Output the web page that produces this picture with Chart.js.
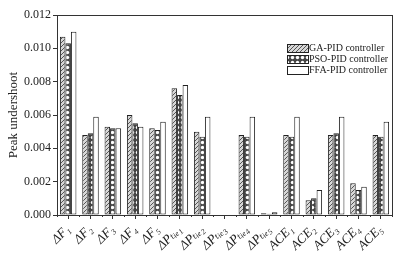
<!DOCTYPE html>
<html>
<head>
<meta charset="utf-8">
<script src="https://cdn.jsdelivr.net/npm/chart.js@4/dist/chart.umd.min.js"></script>
<style>
  html, body { margin: 0; padding: 0; background: #fff; }
  #wrap { width: 406px; height: 258px; }
</style>
</head>
<body>
<div id="wrap"><canvas id="chart" width="406" height="258"></canvas></div>
<script>
var categories = ['ΔF₁', 'ΔF₂', 'ΔF₃', 'ΔF₄', 'ΔF₅',
  'ΔPₜᵢₑ₁', 'ΔPₜᵢₑ₂', 'ΔPₜᵢₑ₃', 'ΔPₜᵢₑ₄', 'ΔPₜᵢₑ₅',
  'ACE₁', 'ACE₂', 'ACE₃', 'ACE₄', 'ACE₅'];
var gaValues  = [0.0107, 0.0048, 0.0053, 0.0060, 0.0052, 0.0076, 0.0050, 0.00003, 0.0048, 0.00010, 0.0048, 0.00088, 0.0048, 0.0019, 0.0048];
var psoValues = [0.0103, 0.0049, 0.0052, 0.0055, 0.0051, 0.0072, 0.0047, 0.00003, 0.0047, 0.00008, 0.0047, 0.0010, 0.0049, 0.0015, 0.0047];
var ffaValues = [0.0110, 0.0059, 0.0052, 0.0053, 0.0056, 0.0078, 0.0059, 0.00003, 0.0059, 0.00016, 0.0059, 0.0015, 0.0059, 0.0017, 0.0056];
var seriesNames = ['GA-PID controller', 'PSO-PID controller', 'FFA-PID controller'];
var yTicks = [0, 0.002, 0.004, 0.006, 0.008, 0.010, 0.012];

var serif = '"Liberation Serif", "Times New Roman", "DejaVu Serif", serif';

// diagonal hatch for GA
function hatchPattern() {
  var c = document.createElement('canvas');
  c.width = 4; c.height = 4;
  var g = c.getContext('2d');
  g.fillStyle = '#d8d8d8';
  g.fillRect(0, 0, 4, 4);
  g.strokeStyle = '#555';
  g.lineWidth = 1;
  g.beginPath();
  g.moveTo(0, 4); g.lineTo(4, 0);
  g.moveTo(-1, 1); g.lineTo(1, -1);
  g.moveTo(3, 5); g.lineTo(5, 3);
  g.stroke();
  return g.createPattern(c, 'repeat');
}

// crosshatch with white holes for PSO
function crossPattern() {
  var c = document.createElement('canvas');
  c.width = 5; c.height = 5;
  var g = c.getContext('2d');
  g.fillStyle = '#444';
  g.fillRect(0, 0, 5, 5);
  g.fillStyle = '#fff';
  g.beginPath();
  g.arc(2.5, 2.5, 1.7, 0, Math.PI * 2);
  g.fill();
  return g.createPattern(c, 'repeat');
}

var fills = [hatchPattern(), crossPattern(), '#ffffff'];

var framePlugin = {
  id: 'frame',
  afterDraw: function(chart) {
    var ctx = chart.ctx, a = chart.chartArea;
    ctx.save();
    ctx.strokeStyle = '#333';
    ctx.lineWidth = 1;
    ctx.strokeRect(Math.round(a.left) + 0.5, Math.round(a.top) + 0.5,
      Math.round(a.right - a.left), Math.round(a.bottom - a.top));

    // minor ticks between categories
    var xs = chart.scales.x;
    var step = xs.width / categories.length;
    ctx.beginPath();
    for (var i = 0; i <= categories.length; i++) {
      var px = Math.round(xs.left + i * step) + 0.5;
      ctx.moveTo(px, a.bottom);
      ctx.lineTo(px, a.bottom + 2);
    }
    ctx.stroke();

    // legend inside plot, top right
    var lx = a.right - 105, ly = a.top + 33;
    ctx.font = '10px ' + serif;
    ctx.textBaseline = 'middle';
    for (var k = 0; k < seriesNames.length; k++) {
      var yy = ly + k * 11;
      ctx.fillStyle = fills[k];
      ctx.fillRect(lx, yy - 4, 21, 8);
      ctx.strokeStyle = '#222';
      ctx.strokeRect(lx + 0.5, yy - 3.5, 21, 8);
      ctx.fillStyle = '#222';
      ctx.fillText(seriesNames[k], lx + 22, yy + 0.5);
    }
    ctx.restore();
  }
};

var ds = [gaValues, psoValues, ffaValues].map(function(vals, k) {
  return {
    label: seriesNames[k],
    data: vals,
    backgroundColor: fills[k],
    borderColor: '#222',
    borderWidth: 1,
    borderSkipped: false,
    categoryPercentage: 0.74,
    barPercentage: 1.0
  };
});

new Chart(document.getElementById('chart').getContext('2d'), {
  type: 'bar',
  data: { labels: categories, datasets: ds },
  options: {
    responsive: false,
    animation: false,
    layout: { padding: { top: 15, right: 14, left: 0, bottom: 0 } },
    plugins: { legend: { display: false }, tooltip: { enabled: false } },
    scales: {
      x: {
        grid: { display: true, offset: false, drawOnChartArea: false, drawTicks: true, tickLength: 4, color: '#333' },
        border: { display: true, color: '#333' },
        ticks: {
          minRotation: 45, maxRotation: 45, autoSkip: false, padding: 3,
          color: '#222', font: { family: serif, size: 13, style: 'italic' }
        },
        afterFit: function(s) { s.height = 43; }
      },
      y: {
        min: 0, max: 0.012,
        afterBuildTicks: function(s) { s.ticks = yTicks.map(function(v) { return { value: v }; }); },
        grid: { display: true, drawOnChartArea: false, drawTicks: true, tickLength: 4, color: '#333' },
        border: { display: true, color: '#333' },
        ticks: {
          color: '#222', padding: 2, font: { family: serif, size: 12 },
          callback: function(v) { return v.toFixed(3); }
        },
        title: { display: true, text: 'Peak undershoot', color: '#222', padding: { top: 6, bottom: 6 }, font: { family: serif, size: 13 } },
        afterFit: function(s) { s.width = 57; }
      }
    }
  },
  plugins: [framePlugin]
});
</script>
</body>
</html>
